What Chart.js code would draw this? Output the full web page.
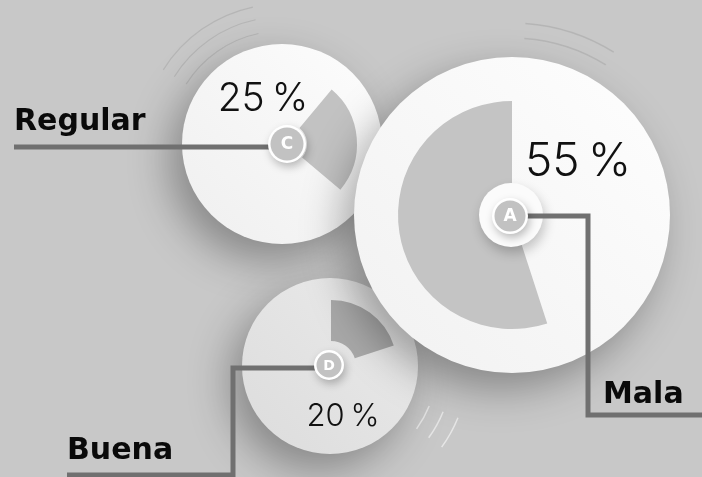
<!DOCTYPE html>
<html lang="es">
<head>
<meta charset="utf-8">
<title>Calificación</title>
<script src="https://cdn.jsdelivr.net/npm/chart.js@4.4.1/dist/chart.umd.min.js"></script>
<style>
  html, body { margin: 0; padding: 0; background: #c8c8c8; overflow: hidden; }
  #stage { position: relative; width: 702px; height: 477px; background: #c8c8c8; }
  #stage canvas { position: absolute; left: 0; top: 0; }
</style>
</head>
<body>
<div id="stage">
  <canvas id="chartC" width="702" height="477"></canvas>
  <canvas id="chartD" width="702" height="477"></canvas>
  <canvas id="chartA" width="702" height="477"></canvas>
</div>
<script>
// Valores de la encuesta
const categories = ['Mala', 'Regular', 'Buena'];
const badgeLetters = ['A', 'C', 'D'];
const shares = [55, 25, 20];

const W = 702, H = 477;
const LABEL_FONT = 'bold 30px "DejaVu Sans", sans-serif';

// Geometria de cada disco (centro, radios, angulo inicial del sector)
const discs = [
  {
    canvas: 'chartA', cx: 512, cy: 215, disc: 158, outer: 114, inner: 30, start: 162,
    discColors: ['#fefefe', '#f1f1f1'], wedge: '#c4c4c4',
    ring: 32, badge: 18, badgeOffset: [-2, 1], letterSize: 17,
    pct: { dx: 66, dy: -39, size: 46 },
    path: [[588, 216], [588, 415], [702, 415]],
    label: { x: 603, y: 403 },
    arcs: { radii: [177, 192], from: -86, to: -58, color: 'rgba(140,140,140,0.3)', width: 1.5 }
  },
  {
    canvas: 'chartC', cx: 286, cy: 144, disc: 100, outer: 71, inner: 21, start: 40,
    discOffset: [-4, 0], discColors: ['#fdfdfd', '#efefef'], wedge: '#c2c2c2',
    ring: 0, badge: 19, badgeOffset: [1, 0], letterSize: 17,
    pct: { dx: -23, dy: -33, size: 39 },
    path: [[14, 147]],
    label: { x: 14, y: 130 },
    arcs: { radii: [113, 127, 140], from: -148, to: -102, color: 'rgba(140,140,140,0.3)', width: 1.2 }
  },
  {
    canvas: 'chartD', cx: 331, cy: 366, disc: 88, outer: 66, inner: 25, start: 0,
    discOffset: [-1, 0], discColors: ['#ebebeb', '#dcdcdc'], wedge: '#a8a8a8',
    ring: 0, badge: 15, badgeOffset: [-2, -1], letterSize: 14,
    pct: { dx: 12, dy: 60, size: 31 },
    path: [[233, 368], [233, 475], [67, 475]],
    label: { x: 67, y: 459 },
    arcs: { radii: [107, 122, 138], from: 22, to: 36, color: 'rgba(255,255,255,0.55)', width: 1.5 }
  }
];

function decorPlugin(spec, idx) {
  return {
    id: 'decor' + idx,
    beforeDatasetsDraw(chart) {
      const ctx = chart.ctx;
      const arc = chart.getDatasetMeta(0).data[0];
      const off = spec.discOffset || [0, 0];
      const x = arc.x + off[0], y = arc.y + off[1];

      // arcos decorativos
      ctx.save();
      ctx.strokeStyle = spec.arcs.color;
      ctx.lineWidth = spec.arcs.width;
      spec.arcs.radii.forEach(r => {
        ctx.beginPath();
        ctx.arc(x, y, r, spec.arcs.from * Math.PI / 180, spec.arcs.to * Math.PI / 180);
        ctx.stroke();
      });
      ctx.restore();

      // disco blanco con sombra
      ctx.save();
      const g = ctx.createLinearGradient(x + spec.disc, y - spec.disc, x - spec.disc, y + spec.disc);
      g.addColorStop(0, spec.discColors[0]);
      g.addColorStop(1, spec.discColors[1]);
      ctx.shadowColor = 'rgba(0,0,0,0.32)';
      ctx.shadowBlur = 40;
      ctx.shadowOffsetX = -12;
      ctx.shadowOffsetY = 16;
      ctx.fillStyle = g;
      ctx.beginPath();
      ctx.arc(x, y, spec.disc, 0, Math.PI * 2);
      ctx.fill();
      ctx.restore();
    },
    afterDatasetsDraw(chart) {
      const ctx = chart.ctx;
      const arc = chart.getDatasetMeta(0).data[0];
      const x = arc.x, y = arc.y;
      const value = chart.data.datasets[0].data[0];
      const bx = x + spec.badgeOffset[0], by = y + spec.badgeOffset[1];

      // anillo blanco alrededor del centro
      if (spec.ring) {
        ctx.save();
        ctx.shadowColor = 'rgba(0,0,0,0.22)';
        ctx.shadowBlur = 12;
        ctx.shadowOffsetX = 2;
        ctx.shadowOffsetY = 6;
        ctx.fillStyle = '#fbfbfb';
        ctx.beginPath();
        ctx.arc(x - 1, y, spec.ring, 0, Math.PI * 2);
        ctx.fill();
        ctx.restore();
      }

      // porcentaje
      ctx.save();
      ctx.fillStyle = '#111';
      ctx.font = '300 ' + spec.pct.size + 'px Inter, "Noto Sans", sans-serif';
      ctx.textAlign = 'center';
      ctx.textBaseline = 'alphabetic';
      ctx.fillText(value + '\u2009%', x + spec.pct.dx, y + spec.pct.dy);
      ctx.restore();

      // linea conectora
      ctx.save();
      ctx.strokeStyle = '#707070';
      ctx.lineWidth = 5;
      ctx.lineJoin = 'miter';
      ctx.beginPath();
      ctx.moveTo(bx, spec.path[0][1]);
      spec.path.forEach(p => ctx.lineTo(p[0], p[1]));
      ctx.stroke();
      ctx.restore();

      // etiqueta de categoria
      ctx.save();
      ctx.fillStyle = '#0a0a0a';
      ctx.font = LABEL_FONT;
      ctx.textAlign = 'left';
      ctx.textBaseline = 'alphabetic';
      ctx.fillText(chart.data.labels[0], spec.label.x, spec.label.y);
      ctx.restore();

      // boton con letra
      ctx.save();
      ctx.shadowColor = 'rgba(0,0,0,0.25)';
      ctx.shadowBlur = 8;
      ctx.shadowOffsetX = 2;
      ctx.shadowOffsetY = 4;
      ctx.fillStyle = '#ffffff';
      ctx.beginPath();
      ctx.arc(bx, by, spec.badge, 0, Math.PI * 2);
      ctx.fill();
      ctx.restore();
      ctx.save();
      ctx.fillStyle = '#c2c2c2';
      ctx.beginPath();
      ctx.arc(bx, by, spec.badge - 2.5, 0, Math.PI * 2);
      ctx.fill();
      ctx.fillStyle = '#ffffff';
      ctx.font = 'bold ' + spec.letterSize + 'px "DejaVu Sans", sans-serif';
      ctx.textAlign = 'center';
      ctx.textBaseline = 'middle';
      ctx.fillText(badgeLetters[idx], bx, by + 1);
      ctx.restore();
    }
  };
}

discs.forEach((spec, i) => {
  const ctx = document.getElementById(spec.canvas).getContext('2d');
  new Chart(ctx, {
    type: 'doughnut',
    data: {
      labels: [categories[i], ''],
      datasets: [{
        data: [shares[i], 100 - shares[i]],
        backgroundColor: [spec.wedge, 'rgba(0,0,0,0)'],
        borderWidth: 0,
        hoverOffset: 0
      }]
    },
    options: {
      responsive: false,
      animation: false,
      devicePixelRatio: 1,
      events: [],
      rotation: spec.start,
      cutout: spec.inner,
      layout: {
        padding: {
          left: spec.cx - spec.outer,
          right: W - spec.cx - spec.outer,
          top: spec.cy - spec.outer,
          bottom: H - spec.cy - spec.outer
        }
      },
      plugins: {
        legend: { display: false },
        tooltip: { enabled: false }
      }
    },
    plugins: [decorPlugin(spec, i)]
  });
});
</script>
</body>
</html>
